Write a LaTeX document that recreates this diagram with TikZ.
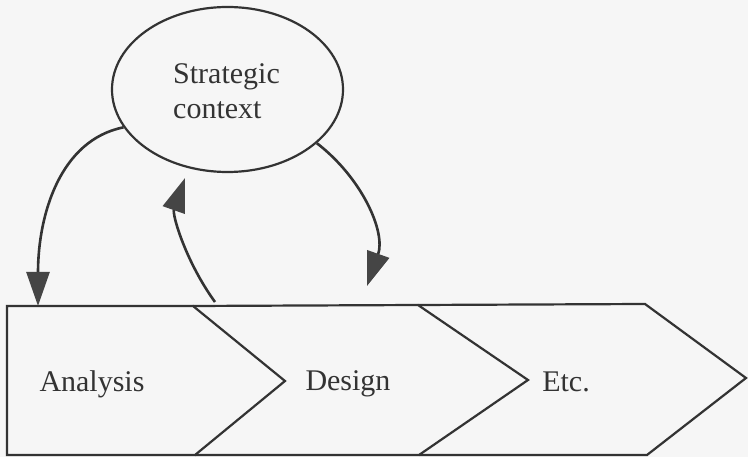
\documentclass[tikz,border=0pt]{standalone}
\usepackage{fontspec}
\setmainfont{Liberation Serif}
\usetikzlibrary{arrows.meta,shapes.geometric}
\definecolor{ink}{HTML}{333333}
\definecolor{headfill}{HTML}{454545}
\definecolor{paper}{HTML}{F6F6F6}
\tikzset{
  outline/.style={draw=ink, line width=2.2pt, line join=miter},
  flowarrow/.style={draw=ink, line width=2.6pt,
    -{Triangle[length=34pt,width=23pt,fill=headfill,color=headfill]}},
  label/.style={font=\fontsize{30}{35}\selectfont, text=ink, inner sep=0pt},
}
\begin{document}
\begin{tikzpicture}[x=1pt,y=-1pt]
  % page area
  \fill[paper] (0,0) rectangle (748,457);
  \useasboundingbox (0,0) rectangle (748,457);

  % strategic context bubble
  \node[ellipse, outline, minimum width=231pt, minimum height=165pt, inner sep=0pt]
    (ctx) at (227.5,89.5) {};
  \node[label, align=left, anchor=west] (ctxtext) at (173,91)
    {Strategic\\context};

  % process chevrons
  \coordinate (p0) at (7,306);
  \coordinate (p1) at (193,306);
  \coordinate (p2) at (418,305);
  \coordinate (p3) at (645,304);
  \coordinate (t1) at (285,381);
  \coordinate (t2) at (528,380);
  \coordinate (t3) at (746,378);
  \coordinate (q0) at (7,455);
  \coordinate (q1) at (195,455);
  \coordinate (q2) at (419,455);
  \coordinate (q3) at (647,455);

  \draw[outline] (p0) -- (p1) -- (t1) -- (q1) -- (q0) -- cycle;
  \draw[outline] (p1) -- (p2) -- (t2) -- (q2) -- (q1);
  \draw[outline] (p2) -- (p3) -- (t3) -- (q3) -- (q2);

  \node[label] (analysis) at (92,384) {Analysis};
  \node[label] (design) at (348,384) {Design};
  \node[label] (etc) at (566,382) {Etc.};

  % connector ends
  \coordinate (inA) at (38,306);
  \coordinate (outD) at (215,302);
  \coordinate (backC) at (185,178);
  \coordinate (inD) at (367,286);

  % feedback loop
  \draw[flowarrow] (ctx.200.6) .. controls (60,140) and (38,215) .. (inA);
  \draw[flowarrow] (outD) .. controls (186,262) and (172,215) .. (backC);
  \draw[flowarrow] (ctx.329.4) .. controls (362,178) and (386,232) .. (inD);
\end{tikzpicture}
\end{document}
